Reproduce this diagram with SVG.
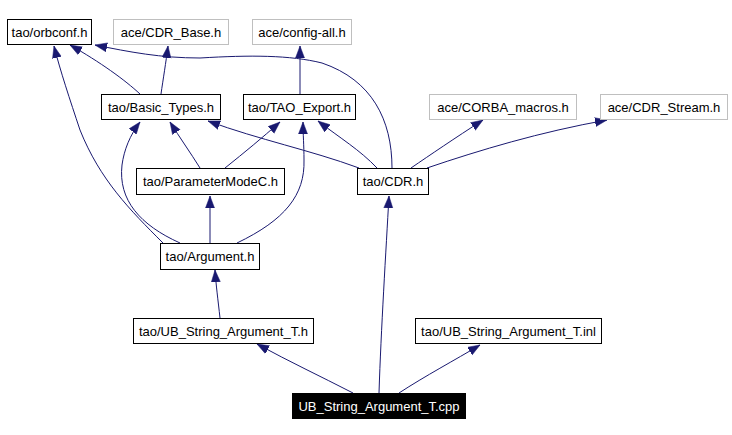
<svg xmlns="http://www.w3.org/2000/svg" width="732" height="435" viewBox="0 0 732 435">
<style>
.n rect{fill:#fff;stroke:#000;stroke-width:1}
.x rect{fill:#fff;stroke:#bfbfbf;stroke-width:1}
.r rect{fill:#000;stroke:#000;stroke-width:1}
text{font-family:"Liberation Sans",Arial,sans-serif;font-size:13px;text-anchor:middle;fill:#000}
.r text{fill:#fff}
.e path{fill:none;stroke:#191970;stroke-width:1;marker-end:url(#a)}
</style>
<defs>
<marker id="a" markerUnits="userSpaceOnUse" markerWidth="13" markerHeight="11" refX="12" refY="5" orient="auto">
<path d="M0,0.5 L12,5 L0,9.5 z" fill="#191970" stroke="#191970" stroke-width="0.5"/>
</marker>
</defs>
<rect width="732" height="435" fill="#fff"/>
<g class="e" id="edges">
<path d="M140,94 C125,80 100,62 70,45"/>
<path d="M161,94 C163,80 166,62 168,46"/>
<path d="M300,94 L300,46"/>
<path d="M392,168 C392,120 372,80 322,63 C290,55 250,55 200,58 C160,58 130,52 95,45"/>
<path d="M359,168 C310,150 260,140 208,121"/>
<path d="M377,168 C360,150 340,138 318,121"/>
<path d="M411,168 C430,155 455,138 483,120"/>
<path d="M427,168 C480,150 540,132 607,120"/>
<path d="M200,168 C190,152 180,138 170,122"/>
<path d="M225,168 C245,152 262,138 280,122"/>
<path d="M163,243 C130,210 100,180 80,130 C70,100 60,70 54,46"/>
<path d="M180,243 C140,225 118,200 122,165 C124,150 130,135 140,122"/>
<path d="M210,243 L210,196"/>
<path d="M237,243 C285,220 305,195 304,160 C304,145 303,135 303,122"/>
<path d="M220,318 C218,300 216,285 215,270"/>
<path d="M353,393 C320,376 290,362 257,344"/>
<path d="M379,393 C381,330 386,250 389,196"/>
<path d="M399,393 C425,376 455,360 480,345"/>
</g>
<g id="orbconf" class="n"><rect x="7.5" y="19.5" width="84" height="25"/><text x="49.5" y="36.5">tao/orbconf.h</text></g>
<g id="cdrbase" class="x"><rect x="113.5" y="19.5" width="115" height="25"/><text x="171" y="36.5">ace/CDR_Base.h</text></g>
<g id="configall" class="x"><rect x="252.5" y="19.5" width="99" height="25"/><text x="302" y="36.5">ace/config-all.h</text></g>
<g id="basictypes" class="n"><rect x="101.5" y="94.5" width="119" height="25"/><text x="161" y="111.5">tao/Basic_Types.h</text></g>
<g id="taoexport" class="n"><rect x="243.5" y="94.5" width="112" height="25"/><text x="299.5" y="111.5">tao/TAO_Export.h</text></g>
<g id="corbamacros" class="x"><rect x="429.5" y="94.5" width="147" height="25"/><text x="503" y="111.5">ace/CORBA_macros.h</text></g>
<g id="cdrstream" class="x"><rect x="600.5" y="94.5" width="127" height="25"/><text x="664" y="111.5">ace/CDR_Stream.h</text></g>
<g id="parammode" class="n"><rect x="136.5" y="168.5" width="148" height="26"/><text x="210.5" y="186">tao/ParameterModeC.h</text></g>
<g id="cdr" class="n"><rect x="357.5" y="168.5" width="71" height="26"/><text x="393" y="186">tao/CDR.h</text></g>
<g id="argument" class="n"><rect x="160.5" y="243.5" width="99" height="26"/><text x="210" y="261">tao/Argument.h</text></g>
<g id="ubh" class="n"><rect x="133.5" y="318.5" width="180" height="25"/><text x="223.5" y="335.5">tao/UB_String_Argument_T.h</text></g>
<g id="ubinl" class="n"><rect x="415.5" y="318.5" width="186" height="25"/><text x="508.5" y="335.5">tao/UB_String_Argument_T.inl</text></g>
<g id="ubcpp" class="r"><rect x="292.5" y="393.5" width="173" height="25"/><text x="379" y="410.5">UB_String_Argument_T.cpp</text></g>
</svg>
